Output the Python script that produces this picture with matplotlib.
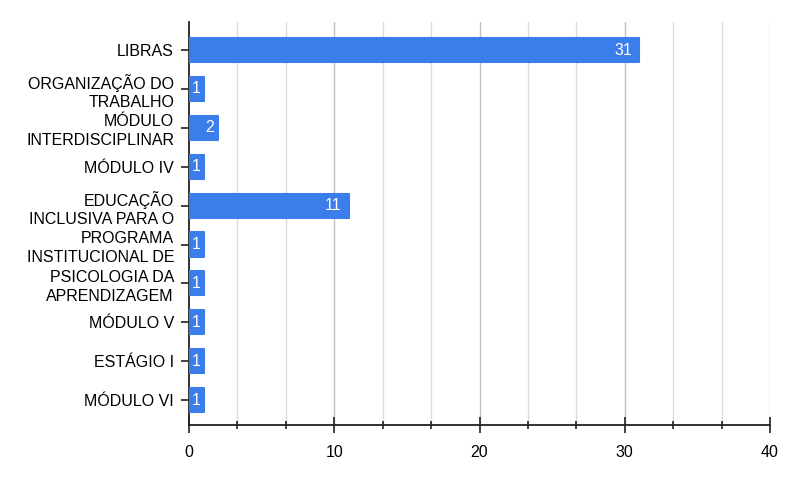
import matplotlib
matplotlib.use("Agg")
import matplotlib.pyplot as plt
from matplotlib.ticker import FixedLocator
import numpy as np

categories = [
    "LIBRAS",
    "ORGANIZAÇÃO DO\nTRABALHO",
    "MÓDULO\nINTERDISCIPLINAR",
    "MÓDULO IV",
    "EDUCAÇÃO\nINCLUSIVA PARA O",
    "PROGRAMA\nINSTITUCIONAL DE",
    "PSICOLOGIA DA\nAPRENDIZAGEM",
    "MÓDULO V",
    "ESTÁGIO I",
    "MÓDULO VI",
]
values = [31, 1, 2, 1, 11, 1, 1, 1, 1, 1]
x_major = [0, 10, 20, 30, 40]

plt.rcParams['font.family'] = ['Liberation Sans', 'DejaVu Sans']

fig = plt.figure(figsize=(7.94, 4.84), dpi=100)
ax = fig.add_axes([189/794, 1-425/484, (770-189)/794, (425-22)/484])

bar_color = "#3B7DEA"
y = np.arange(len(categories))
ax.barh(y, values, height=0.62, color=bar_color, edgecolor=bar_color,
        linewidth=1.5, joinstyle='round', zorder=3)

ax.set_xlim(0, 40)
ax.set_ylim(len(categories) - 1 + 0.64, -0.72)

minor_pos = [i * 10/3 for i in range(13)]
ax.xaxis.set_major_locator(FixedLocator(x_major))
ax.xaxis.set_minor_locator(FixedLocator([p for p in minor_pos if abs(p - round(p/10)*10) > 1e-6]))
for p in minor_pos:
    is_major = abs(p - round(p/10)*10) < 1e-6
    if p == 0:
        continue
    ax.axvline(p, color="#c0c0c0" if is_major else "#dcdcdc", lw=1.0, zorder=1)

ax.set_yticks(y)
ax.set_yticklabels(categories, fontsize=11.5, linespacing=1.3)
ax.set_xticklabels([str(v) for v in x_major], fontsize=11.5)

for s in ["top", "right"]:
    ax.spines[s].set_visible(False)
for s in ["left", "bottom"]:
    ax.spines[s].set_color("#222222")
    ax.spines[s].set_linewidth(1.3)

ax.tick_params(axis='y', direction='inout', length=11.5, width=1.2, color="#222222", pad=5)
ax.tick_params(axis='x', which='major', direction='inout', length=11.5, width=1.2, color="#222222", pad=9)
ax.tick_params(axis='x', which='minor', direction='inout', length=6, width=1.2, color="#222222")

px_per_unit = (770-189) / 40
for yi, v in zip(y, values):
    if v * px_per_unit < 35:
        ax.annotate(str(v), (v/2 if v == 1 else v, yi), xytext=(0 if v == 1 else -8, 0),
                    textcoords='offset pixels', ha='center', va='center',
                    color='white', fontsize=11.5, zorder=4)
    else:
        ax.annotate(str(v), (v, yi), xytext=(-7, 0), textcoords='offset pixels',
                    ha='right', va='center', color='white', fontsize=11.5, zorder=4)

fig.savefig("out.png", dpi=100, facecolor="white")
